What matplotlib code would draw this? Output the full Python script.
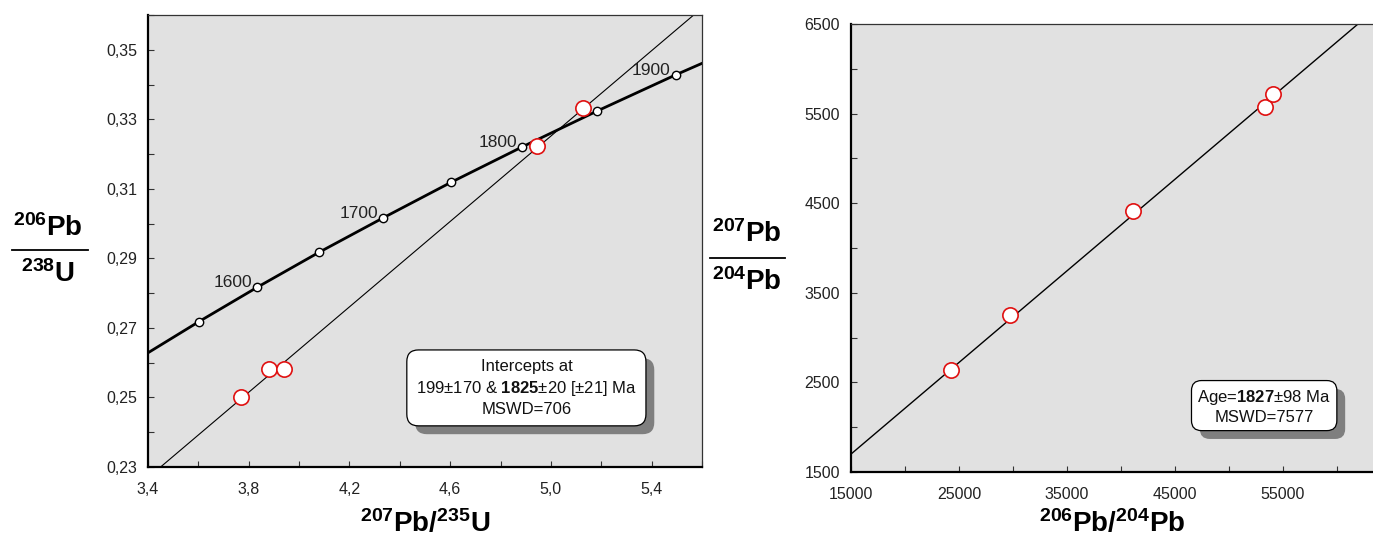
import matplotlib
matplotlib.use("Agg")
import matplotlib.pyplot as plt
from matplotlib.lines import Line2D
from matplotlib.patches import Shadow
from matplotlib.ticker import MultipleLocator, FixedLocator

plt.rcParams['font.family'] = ['Liberation Sans', 'DejaVu Sans']
plt.rcParams['mathtext.fontset'] = 'custom'
plt.rcParams['mathtext.rm'] = 'Liberation Sans'
plt.rcParams['mathtext.bf'] = 'Liberation Sans:bold'
plt.rcParams['mathtext.it'] = 'Liberation Sans:italic'

# ---------------- data: concordia plot ----------------
conc_age = [1500, 1550, 1600, 1650, 1700, 1750, 1800, 1850, 1900, 1950]
conc_x = [3.381, 3.602, 3.834, 4.078, 4.335, 4.604, 4.887, 5.184, 5.496, 5.824]
conc_y = [0.2620, 0.2718, 0.2817, 0.2917, 0.3017, 0.3119, 0.3221, 0.3324, 0.3428, 0.3532]
conc_labeled = [1600, 1700, 1800, 1900]
marker_ages = [1550, 1600, 1650, 1700, 1750, 1800, 1850, 1900]

disc_x = [3.45, 5.567]
disc_y = [0.230, 0.360]

samp_x = [3.770, 3.881, 3.940, 4.944, 5.129]
samp_y = [0.2500, 0.2581, 0.2581, 0.3222, 0.3333]

left_xticks = [3.4, 3.8, 4.2, 4.6, 5.0, 5.4]
left_xticklabels = ['3,4', '3,8', '4,2', '4,6', '5,0', '5,4']
left_yticks = [0.23, 0.25, 0.27, 0.29, 0.31, 0.33, 0.35]
left_yticklabels = ['0,23', '0,25', '0,27', '0,29', '0,31', '0,33', '0,35']

# ---------------- data: isochron plot ----------------
iso_line_x = [15000, 61944]
iso_line_y = [1700, 6500]
iso_x = [24259, 29722, 41111, 53361, 54074]
iso_y = [2637, 3248, 4414, 5573, 5722]

right_xticks = [15000, 25000, 35000, 45000, 55000]
right_xticklabels = ['15000', '25000', '35000', '45000', '55000']
right_yticks = [1500, 2500, 3500, 4500, 5500, 6500]
right_yticklabels = ['1500', '2500', '3500', '4500', '5500', '6500']

W, H = 1373, 538
fig = plt.figure(figsize=(W / 100, H / 100), dpi=100)

def px_axes(x0, y0, x1, y1):
    return fig.add_axes([x0 / W, 1 - y1 / H, (x1 - x0) / W, (y1 - y0) / H])

BG = '#e1e1e1'
TICKCOL = '#222222'

def style_axes(ax):
    ax.set_facecolor(BG)
    for s in ('left', 'bottom'):
        ax.spines[s].set_linewidth(1.6)
        ax.spines[s].set_color('black')
    for s in ('top', 'right'):
        ax.spines[s].set_linewidth(0.9)
        ax.spines[s].set_color('#333333')
    ax.tick_params(which='both', direction='in', length=4, width=0.8,
                   color='#333333', labelsize=11.5, labelcolor=TICKCOL)
    ax.tick_params(axis='x', which='both', pad=11)
    ax.tick_params(axis='y', which='both', pad=8)

shadow_boxes = []

def boxed_text(ax, x, y, s, pad, rsize, ls):
    t = ax.text(x, y, s, transform=ax.transAxes, ha='center', va='center',
                fontsize=12, color='#111111', linespacing=ls, zorder=7,
                bbox=dict(boxstyle=f'round,pad={pad},rounding_size={rsize}',
                          fc='white', ec='black', lw=0.9))
    shadow_boxes.append((ax, t))

# ---------- left: concordia ----------
ax1 = px_axes(148, 15, 702, 467)
style_axes(ax1)
ax1.set_xlim(3.4, 5.6)
ax1.set_ylim(0.23, 0.36)
ax1.xaxis.set_major_locator(FixedLocator(left_xticks))
ax1.set_xticklabels(left_xticklabels)
ax1.xaxis.set_minor_locator(MultipleLocator(0.2))
ax1.yaxis.set_major_locator(FixedLocator(left_yticks))
ax1.set_yticklabels(left_yticklabels)
ax1.yaxis.set_minor_locator(MultipleLocator(0.01))

ax1.plot(conc_x, conc_y, color='black', lw=2.0, zorder=2, solid_capstyle='butt')
ax1.plot(disc_x, disc_y, color='black', lw=0.8, zorder=2)
mx = [conc_x[conc_age.index(a)] for a in marker_ages]
my = [conc_y[conc_age.index(a)] for a in marker_ages]
ax1.plot(mx, my, 'o', ms=6, mfc='white', mec='black', mew=1.0, ls='none', zorder=3)
for a in conc_labeled:
    i = conc_age.index(a)
    ax1.annotate(str(a), (conc_x[i], conc_y[i]), xytext=(-5, 0),
                 textcoords='offset pixels', ha='right', va='baseline',
                 fontsize=12.5, color='#222222', zorder=4)
ax1.plot(samp_x, samp_y, 'o', ms=11, mfc='white', mec='#e01010', mew=1.2,
         ls='none', zorder=5)

boxed_text(ax1, 0.683, 0.175,
           'Intercepts at\n199±170 & $\\mathbf{1825}$±20 [±21] Ma\nMSWD=706',
           pad=0.55, rsize=0.7, ls=1.33)

fig.text(425 / W, 1 - 524 / H, r'${}^{\mathbf{207}}\mathbf{Pb/}{}^{\mathbf{235}}\mathbf{U}$',
         ha='center', va='center', fontsize=20)

# y label fraction (left)
fig.text(48 / W, 1 - 228 / H, r'${}^{\mathbf{206}}\mathbf{Pb}$', ha='center', va='center', fontsize=20)
fig.text(48 / W, 1 - 274 / H, r'${}^{\mathbf{238}}\mathbf{U}$', ha='center', va='center', fontsize=20)
fig.add_artist(Line2D([12 / W, 88 / W], [1 - 250 / H, 1 - 250 / H], color='black', lw=1.3,
                      transform=fig.transFigure))

# ---------- right: isochron ----------
ax2 = px_axes(851, 24, 1374, 472)
style_axes(ax2)
ax2.set_xlim(15000, 15000 + 523 / 0.0108)
ax2.set_ylim(1500, 6500)
ax2.xaxis.set_major_locator(FixedLocator(right_xticks))
ax2.set_xticklabels(right_xticklabels)
ax2.xaxis.set_minor_locator(MultipleLocator(5000))
ax2.yaxis.set_major_locator(FixedLocator(right_yticks))
ax2.set_yticklabels(right_yticklabels)
ax2.yaxis.set_minor_locator(MultipleLocator(500))

ax2.plot(iso_line_x, iso_line_y, color='black', lw=1.0, zorder=2)
ax2.plot(iso_x, iso_y, 'o', ms=11, mfc='white', mec='#e01010', mew=1.2, ls='none', zorder=5)

boxed_text(ax2, 0.790, 0.146, 'Age=$\\mathbf{1827}$±98 Ma\nMSWD=7577',
           pad=0.35, rsize=0.6, ls=1.2)

fig.text(1112 / W, 1 - 524 / H, r'${}^{\mathbf{206}}\mathbf{Pb/}{}^{\mathbf{204}}\mathbf{Pb}$',
         ha='center', va='center', fontsize=20)

fig.text(747 / W, 1 - 234 / H, r'${}^{\mathbf{207}}\mathbf{Pb}$', ha='center', va='center', fontsize=20)
fig.text(747 / W, 1 - 282 / H, r'${}^{\mathbf{204}}\mathbf{Pb}$', ha='center', va='center', fontsize=20)
fig.add_artist(Line2D([710 / W, 785 / W], [1 - 258 / H, 1 - 258 / H], color='black', lw=1.3,
                      transform=fig.transFigure))

# first draw positions the text boxes, then add their drop shadows beneath them
fig.canvas.draw()
for ax, t in shadow_boxes:
    bp = t.get_bbox_patch()
    sh = Shadow(bp, 6, -6)
    sh.set_transform(bp.get_transform())
    sh.set_facecolor('#7f7f7f')
    sh.set_edgecolor('none')
    sh.set_alpha(1.0)
    sh.set_zorder(6)
    sh.set_clip_on(False)
    ax.add_artist(sh)

fig.savefig('out.png', dpi=100, facecolor='white')
